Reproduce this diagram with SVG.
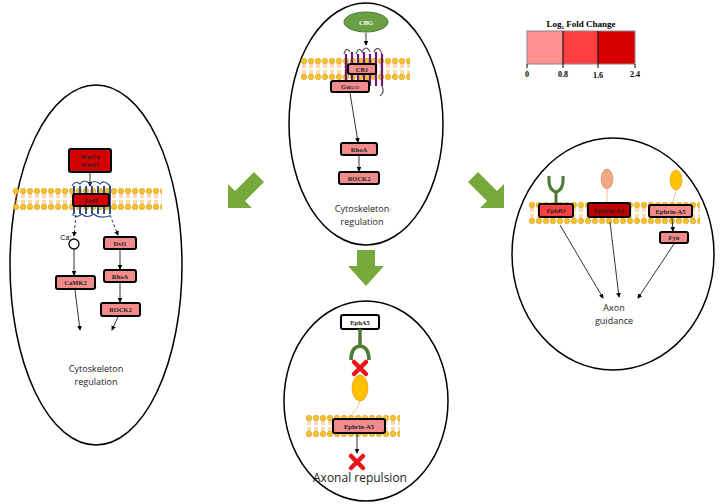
<svg xmlns="http://www.w3.org/2000/svg" width="724" height="504" viewBox="0 0 724 504">
<defs>
<style>
.cell{fill:none;stroke:#000;stroke-width:1.5}
.b{stroke:#000;stroke-width:2;rx:2}
.lt{fill:#f28b8b}.md{fill:#ff4040}.dk{fill:#d40000}
.bt{font-family:"Liberation Serif",serif;font-size:6.5px;font-weight:bold;text-anchor:middle;fill:#222}
.w{fill:#fff}
.t{font-family:"Open Sans",sans-serif;font-size:9px;text-anchor:middle;fill:#222}
.ln{stroke:#000;stroke-width:0.8;fill:none}
.dash{stroke:#000;stroke-width:0.8;fill:none;stroke-dasharray:3 2}
.ga{fill:#77aa3a}
</style>
<marker id="ar" markerWidth="6" markerHeight="6" refX="5" refY="3" orient="auto"><path d="M0,0 L6,3 L0,6z" fill="#000"/></marker>
<g id="lip">
<line x1="3" y1="4" x2="3" y2="10" stroke="#f5a040" stroke-width="0.8"/>
<line x1="5" y1="4" x2="5" y2="10" stroke="#f5a040" stroke-width="0.8"/>
<line x1="3" y1="12" x2="3" y2="18" stroke="#f5a040" stroke-width="0.8"/>
<line x1="5" y1="12" x2="5" y2="18" stroke="#f5a040" stroke-width="0.8"/>
<circle cx="4" cy="3" r="2.8" fill="#f7c230" stroke="#c89000" stroke-width="0.5"/>
<circle cx="4" cy="19" r="2.8" fill="#f7c230" stroke="#c89000" stroke-width="0.5"/>
</g>
<pattern id="m1" patternUnits="userSpaceOnUse" x="300" y="58" width="7" height="22"><use href="#lip"/></pattern>
<pattern id="m2" patternUnits="userSpaceOnUse" x="12" y="188" width="7" height="22"><use href="#lip"/></pattern>
<pattern id="m3" patternUnits="userSpaceOnUse" x="528" y="202" width="7" height="22"><use href="#lip"/></pattern>
<pattern id="m4" patternUnits="userSpaceOnUse" x="305" y="415" width="7" height="22"><use href="#lip"/></pattern>
<g id="redx"><path d="M-6,-6 L6,6 M6,-6 L-6,6" stroke="#e8141a" stroke-width="4.5" stroke-linecap="round"/></g>
</defs>
<rect width="724" height="504" fill="#fff"/>

<g id="legend">
<text x="581" y="27" font-family="Liberation Serif,serif" font-size="9" font-weight="bold" text-anchor="middle">Log<tspan font-size="5" dy="2">2</tspan><tspan dy="-2"> Fold Change</tspan></text>
<rect x="527" y="31" width="36" height="33" fill="#ff9090"/>
<rect x="563" y="31" width="35" height="33" fill="#ff4040"/>
<rect x="598" y="31" width="37" height="33" fill="#d80000"/>
<rect x="527" y="31" width="108" height="33" fill="none" stroke="#888" stroke-width="1"/>
<path d="M563,31V68M598,31V68M527,64V68M635,64V68" stroke="#000" stroke-width="1"/>
<g font-family="Liberation Serif,serif" font-size="8" font-weight="bold" text-anchor="middle">
<text x="527" y="77">0</text><text x="563" y="77">0.8</text><text x="598" y="78">1.6</text><text x="635" y="77">2.4</text></g>
</g>

<g id="arrows">
<path class="ga" d="M254,172 L264,182 L245,201 L252,208 L228,208 L228,184 L235,191 Z"/>
<path class="ga" d="M478,172 L468,182 L487,201 L480,208 L504,208 L504,184 L497,191 Z"/>
<path class="ga" d="M357,250 H375 V266 H384 L366,286 L348,266 H357 Z"/>
</g>

<g id="cellTop">
<ellipse class="cell" cx="366" cy="124" rx="77" ry="121"/>
<ellipse cx="366" cy="22" rx="22" ry="10" fill="#6aa043" stroke="#4d7a2e"/>
<text x="366" y="25" class="bt w">CBG</text>
<line x1="366" y1="33" x2="366" y2="45" class="ln" marker-end="url(#ar)"/>
<rect x="300" y="58" width="110" height="22" fill="url(#m1)"/>
<path d="M346,54 V86 M352,52 V86 M358,54 V86 M364,52 V86 M370,54 V86 M376,52 V86 M382,54 V86" stroke="#6b1a7a" stroke-width="2.2"/>
<path d="M344,54 q2,-8 6,-2 M356,54 q3,-8 6,-2 q4,-8 8,0 M374,52 q4,-8 8,2 M382,86 q3,6 -2,10" stroke="#555" stroke-width="1.2" fill="none"/>
<rect x="348" y="64" width="28" height="10" class="b lt"/>
<text x="362" y="71.5" class="bt">CB1</text>
<rect x="331" y="81" width="38" height="11" class="b lt"/>
<text x="350" y="89" class="bt">Gα<tspan font-size="4">12/13</tspan></text>
<line x1="350" y1="93" x2="358" y2="142" class="ln" marker-end="url(#ar)"/>
<rect x="341" y="143" width="36" height="12" class="b lt"/>
<text x="359" y="151.5" class="bt">RhoA</text>
<line x1="359" y1="156" x2="359" y2="171" class="ln" marker-end="url(#ar)"/>
<rect x="339" y="172" width="40" height="12" class="b lt"/>
<text x="359" y="180.5" class="bt">ROCK2</text>
<text x="362" y="212" class="t">Cytoskeleton</text>
<text x="362" y="225" class="t">regulation</text>
</g>

<g id="cellLeft">
<ellipse class="cell" cx="96" cy="265" rx="86" ry="180"/>
<rect x="69" y="149" width="42" height="23" class="b dk"/>
<text x="90" y="159" class="bt">Wnt7a</text><text x="90" y="167" class="bt">Wnt11</text>
<line x1="90" y1="173" x2="90" y2="186" class="ln" marker-end="url(#ar)"/>
<rect x="12" y="188" width="150" height="22" fill="url(#m2)"/>
<path d="M74,186 V214 M80,186 V214 M86,186 V214 M92,186 V214 M98,186 V214 M104,186 V214 M110,186 V214" stroke="#2f4f8a" stroke-width="2"/>
<path d="M72,186 q3,-6 8,-2 q4,-6 10,0 q4,-5 10,0 q4,-5 10,2 M72,214 q4,5 10,0 q5,5 12,0 q5,5 16,2" stroke="#2f4f8a" stroke-width="1.2" fill="none"/>
<rect x="73" y="194" width="36" height="12" class="b dk"/>
<text x="91" y="202.5" class="bt">Fzd7</text>
<line x1="76" y1="215" x2="74" y2="236" class="dash" marker-end="url(#ar)"/>
<line x1="110" y1="215" x2="118" y2="235" class="dash" marker-end="url(#ar)"/>
<text x="66" y="240" font-family="Liberation Sans,sans-serif" font-size="7" text-anchor="middle">Ca<tspan font-size="4" dy="-3">+</tspan></text>
<circle cx="74" cy="244" r="5" fill="#fff" stroke="#000" stroke-width="1.3"/>
<line x1="74" y1="249" x2="74" y2="275" class="ln" marker-end="url(#ar)"/>
<rect x="56" y="276" width="39" height="13" class="b lt"/>
<text x="75.5" y="285" class="bt">CaMK2</text>
<rect x="104" y="237" width="32" height="12" class="b lt"/>
<text x="120" y="245.5" class="bt">Dvl1</text>
<line x1="120" y1="250" x2="120" y2="269" class="ln" marker-end="url(#ar)"/>
<rect x="104" y="270" width="32" height="12" class="b lt"/>
<text x="120" y="278.5" class="bt">RhoA</text>
<line x1="120" y1="283" x2="120" y2="302" class="ln" marker-end="url(#ar)"/>
<rect x="101" y="303" width="39" height="13" class="b lt"/>
<text x="120.5" y="312" class="bt">ROCK2</text>
<line x1="75" y1="290" x2="80" y2="330" class="ln" marker-end="url(#ar)"/>
<line x1="118" y1="317" x2="112" y2="330" class="ln" marker-end="url(#ar)"/>
<text x="96" y="372" class="t">Cytoskeleton</text>
<text x="96" y="385" class="t">regulation</text>
</g>

<g id="cellRight">
<ellipse class="cell" cx="613" cy="254" rx="101" ry="116"/>
<rect x="528" y="202" width="172" height="22" fill="url(#m3)"/>
<path d="M556,203 V192 M556,192 Q548,190 549,176 M556,192 Q564,190 563,176" stroke="#4f7a30" stroke-width="3" fill="none"/>
<ellipse cx="607" cy="179" rx="6" ry="10" fill="#f0a880" stroke="#c08060" stroke-width="0.5"/>
<line x1="607" y1="189" x2="607" y2="203" stroke="#f0a880" stroke-width="0.8"/>
<ellipse cx="676" cy="180" rx="6" ry="10" fill="#ffc000" stroke="#d09000" stroke-width="0.5"/>
<line x1="676" y1="190" x2="672" y2="205" stroke="#f0a880" stroke-width="0.8"/>
<rect x="539" y="204" width="34" height="13" class="b md"/>
<text x="556" y="213" class="bt">EphB3</text>
<rect x="588" y="203" width="42" height="14" class="b" fill="#c00000"/>
<text x="609" y="212.5" class="bt">Ephrin-A3</text>
<rect x="649" y="205" width="43" height="12" class="b lt"/>
<text x="670.5" y="213.5" class="bt">Ephrin-A5</text>
<line x1="672" y1="218" x2="673" y2="231" class="ln" marker-end="url(#ar)"/>
<rect x="660" y="232" width="28" height="11" class="b lt"/>
<text x="674" y="240" class="bt">Fyn</text>
<line x1="560" y1="225" x2="603" y2="298" class="ln" marker-end="url(#ar)"/>
<line x1="610" y1="222" x2="619" y2="297" class="ln" marker-end="url(#ar)"/>
<line x1="674" y1="244" x2="638" y2="298" class="ln" marker-end="url(#ar)"/>
<text x="614" y="311" class="t">Axon</text>
<text x="614" y="324" class="t">guidance</text>
</g>

<g id="cellBottom">
<ellipse class="cell" cx="366" cy="401" rx="82" ry="100"/>
<rect x="341" y="315" width="38" height="14" class="b" fill="#fff"/>
<text x="360" y="324.5" class="bt">EphA5</text>
<path d="M360,329 V346 M360,346 Q351,347 351,360 M360,346 Q369,347 369,360" stroke="#4f7a30" stroke-width="3.5" fill="none"/>
<use href="#redx" x="360" y="368"/>
<ellipse cx="360" cy="388" rx="8" ry="13" fill="#ffc000" stroke="#d09000" stroke-width="0.5"/>
<path d="M360,401 q-2,8 -8,13" stroke="#f0a880" stroke-width="0.8" fill="none"/>
<rect x="305" y="415" width="95" height="22" fill="url(#m4)"/>
<rect x="333" y="419" width="52" height="14" class="b lt"/>
<text x="359" y="428.5" class="bt">Ephrin-A5</text>
<line x1="357" y1="434" x2="357" y2="453" class="ln" marker-end="url(#ar)"/>
<use href="#redx" x="357" y="462"/>
<text x="360" y="482" class="t" style="font-size:12px">Axonal repulsion</text>
</g>
</svg>
